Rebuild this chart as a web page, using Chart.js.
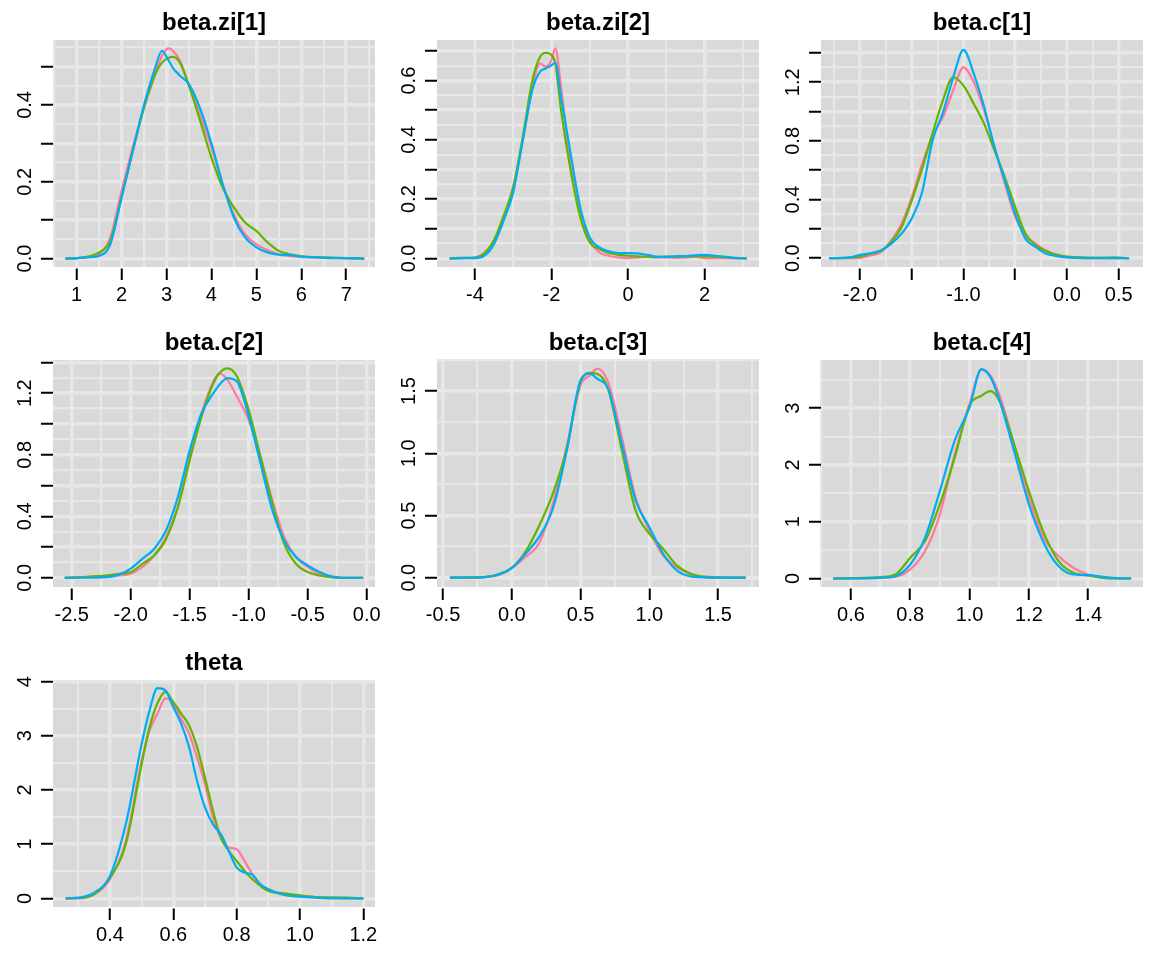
<!DOCTYPE html>
<html>
<head>
<meta charset="utf-8">
<script src="https://cdn.jsdelivr.net/npm/chart.js@4"></script>
<style>
  body { margin: 0; background: #fff; width: 1152px; height: 960px; position: relative; overflow: hidden; }
  .cell { position: absolute; width: 384px; height: 320px; }
  .cell canvas { position: absolute; left: 0; top: 0; }
  .title {
    position: absolute; left: 53px; width: 322px; top: 8px; line-height: 28px;
    text-align: center; font: bold 24px "Liberation Sans", Arial, sans-serif; color: #000;
  }
</style>
</head>
<body>
<script>
// chain colours (chain 1, 2, 3)
const chainColors = ["#FF7A9C", "#62B400", "#00ADF2"];

// beta.zi[1]
const bZi1X = [0.75, 1.0, 1.25, 1.5, 1.75, 2.0, 2.25, 2.5, 2.75, 2.9, 3.05, 3.15, 3.3, 3.5, 3.75, 4.0, 4.25, 4.5, 4.75, 5.0, 5.25, 5.5, 5.75, 6.0, 6.5, 7.0, 7.4];
const bZi1C1 = [0, 0.001, 0.004, 0.012, 0.055, 0.176, 0.29, 0.393, 0.48, 0.528, 0.547, 0.54, 0.515, 0.45, 0.372, 0.289, 0.194, 0.115, 0.063, 0.037, 0.022, 0.011, 0.007, 0.004, 0.002, 0.001, 0];
const bZi1C2 = [0, 0.001, 0.005, 0.016, 0.046, 0.159, 0.28, 0.393, 0.48, 0.51, 0.523, 0.525, 0.51, 0.45, 0.358, 0.263, 0.185, 0.133, 0.094, 0.072, 0.042, 0.02, 0.011, 0.006, 0.003, 0.001, 0];
const bZi1C3 = [0, 0.001, 0.003, 0.007, 0.037, 0.159, 0.28, 0.4, 0.497, 0.541, 0.515, 0.495, 0.476, 0.454, 0.39, 0.3, 0.194, 0.107, 0.055, 0.029, 0.016, 0.01, 0.009, 0.005, 0.002, 0.001, 0];
const bZi1XTicks = [1, 2, 3, 4, 5, 6, 7];
const bZi1XLabels = ["1", "2", "3", "4", "5", "6", "7"];
const bZi1YTicks = [0, 0.1, 0.2, 0.3, 0.4, 0.5];
const bZi1YLabels = ["0.0", "", "0.2", "", "0.4", ""];

// beta.zi[2]
const bZi2X = [-4.66, -4.25, -4.0, -3.75, -3.5, -3.25, -3.0, -2.75, -2.5, -2.3, -2.15, -2.0, -1.9, -1.75, -1.5, -1.25, -1.0, -0.75, -0.5, -0.25, 0, 0.25, 0.5, 0.75, 1.0, 1.25, 1.5, 1.75, 2.0, 2.25, 2.5, 2.75, 3.1];
const bZi2C1 = [0, 0.002, 0.003, 0.02, 0.06, 0.139, 0.24, 0.398, 0.579, 0.658, 0.647, 0.669, 0.709, 0.579, 0.308, 0.15, 0.06, 0.02, 0.009, 0.003, 0.001, 0.003, 0.006, 0.003, 0.003, 0.002, 0.003, 0.006, 0.001, 0.001, 0.001, 0, 0];
const bZi2C2 = [0, 0.002, 0.003, 0.017, 0.062, 0.144, 0.24, 0.41, 0.6, 0.68, 0.694, 0.686, 0.658, 0.5, 0.297, 0.139, 0.054, 0.032, 0.018, 0.012, 0.009, 0.007, 0.006, 0.004, 0.006, 0.006, 0.007, 0.007, 0.008, 0.006, 0.004, 0.002, 0];
const bZi2C3 = [0, 0.001, 0.001, 0.009, 0.049, 0.128, 0.223, 0.398, 0.568, 0.63, 0.641, 0.652, 0.66, 0.545, 0.353, 0.173, 0.071, 0.037, 0.024, 0.018, 0.018, 0.017, 0.012, 0.006, 0.005, 0.007, 0.008, 0.01, 0.012, 0.009, 0.006, 0.002, 0];
const bZi2XTicks = [-4, -2, 0, 2];
const bZi2XLabels = ["-4", "-2", "0", "2"];
const bZi2YTicks = [0, 0.1, 0.2, 0.3, 0.4, 0.5, 0.6, 0.7];
const bZi2YLabels = ["0.0", "", "0.2", "", "0.4", "", "0.6", ""];

// beta.c[1]
const bC1X = [-2.3, -2.1, -2.0, -1.9, -1.8, -1.7, -1.6, -1.5, -1.4, -1.3, -1.2, -1.1, -1.0, -0.9, -0.8, -0.7, -0.6, -0.5, -0.4, -0.3, -0.2, -0.1, 0, 0.1, 0.25, 0.45, 0.6];
const bC1C1 = [0, 0, 0.002, 0.018, 0.041, 0.12, 0.234, 0.416, 0.643, 0.836, 0.961, 1.143, 1.302, 1.2, 1.007, 0.757, 0.507, 0.28, 0.155, 0.098, 0.052, 0.023, 0.009, 0.002, 0, 0, 0];
const bC1C2 = [0, 0.004, 0.011, 0.03, 0.048, 0.11, 0.21, 0.393, 0.609, 0.848, 1.075, 1.234, 1.177, 1.052, 0.916, 0.734, 0.552, 0.348, 0.166, 0.086, 0.048, 0.025, 0.011, 0.007, 0.004, 0.005, 0];
const bC1C3 = [0, 0.005, 0.023, 0.034, 0.052, 0.098, 0.166, 0.27, 0.45, 0.8, 0.99, 1.23, 1.42, 1.257, 1.03, 0.757, 0.53, 0.302, 0.132, 0.075, 0.03, 0.014, 0.005, 0.002, 0, 0, 0];
const bC1XTicks = [-2.0, -1.5, -1.0, -0.5, 0.0, 0.5];
const bC1XLabels = ["-2.0", "", "-1.0", "", "0.0", "0.5"];
const bC1YTicks = [0, 0.2, 0.4, 0.6, 0.8, 1.0, 1.2, 1.4];
const bC1YLabels = ["0.0", "", "0.4", "", "0.8", "", "1.2", ""];

// beta.c[2]
const bC2X = [-2.56, -2.4, -2.2, -2.1, -2.0, -1.9, -1.8, -1.7, -1.6, -1.5, -1.4, -1.3, -1.25, -1.18, -1.1, -1.0, -0.9, -0.8, -0.7, -0.6, -0.5, -0.4, -0.3, -0.2, -0.03];
const bC2C1 = [0, 0.004, 0.011, 0.015, 0.026, 0.07, 0.146, 0.265, 0.461, 0.787, 1.07, 1.276, 1.33, 1.287, 1.178, 1.026, 0.787, 0.504, 0.265, 0.135, 0.07, 0.026, 0.004, 0, 0];
const bC2C2 = [0, 0.004, 0.015, 0.026, 0.037, 0.091, 0.146, 0.254, 0.461, 0.765, 1.048, 1.265, 1.33, 1.361, 1.309, 1.091, 0.787, 0.483, 0.222, 0.091, 0.037, 0.015, 0.004, 0, 0];
const bC2C3 = [0, 0, 0.004, 0.02, 0.059, 0.124, 0.189, 0.309, 0.526, 0.83, 1.07, 1.2, 1.254, 1.298, 1.276, 1.048, 0.743, 0.439, 0.243, 0.135, 0.08, 0.037, 0.009, 0, 0];
const bC2XTicks = [-2.5, -2.0, -1.5, -1.0, -0.5, 0.0];
const bC2XLabels = ["-2.5", "-2.0", "-1.5", "-1.0", "-0.5", "0.0"];
const bC2YTicks = [0, 0.2, 0.4, 0.6, 0.8, 1.0, 1.2, 1.4];
const bC2YLabels = ["0.0", "", "0.4", "", "0.8", "", "1.2", ""];

// beta.c[3]
const bC3X = [-0.45, -0.3, -0.2, -0.1, 0.0, 0.1, 0.2, 0.3, 0.4, 0.5, 0.57, 0.62, 0.7, 0.8, 0.9, 1.0, 1.1, 1.2, 1.3, 1.4, 1.5, 1.7];
const bC3C1 = [0, 0, 0.005, 0.019, 0.078, 0.166, 0.28, 0.6, 1.06, 1.547, 1.627, 1.68, 1.574, 1.131, 0.649, 0.381, 0.18, 0.086, 0.032, 0.005, 0, 0];
const bC3C2 = [0, 0, 0.004, 0.027, 0.078, 0.21, 0.42, 0.68, 1.04, 1.574, 1.646, 1.64, 1.52, 1.024, 0.542, 0.354, 0.233, 0.099, 0.032, 0.008, 0.003, 0];
const bC3C3 = [0, 0.003, 0.005, 0.024, 0.078, 0.193, 0.33, 0.56, 1.02, 1.587, 1.64, 1.6, 1.52, 1.078, 0.622, 0.408, 0.193, 0.059, 0.011, 0.003, 0, 0];
const bC3XTicks = [-0.5, 0.0, 0.5, 1.0, 1.5];
const bC3XLabels = ["-0.5", "0.0", "0.5", "1.0", "1.5"];
const bC3YTicks = [0, 0.5, 1.0, 1.5];
const bC3YLabels = ["0.0", "0.5", "1.0", "1.5"];

// beta.c[4]
const bC4X = [0.54, 0.6, 0.7, 0.75, 0.8, 0.85, 0.9, 0.95, 1.0, 1.04, 1.07, 1.1, 1.15, 1.2, 1.25, 1.3, 1.35, 1.4, 1.45, 1.5, 1.545];
const bC4C1 = [0, 0, 0.012, 0.03, 0.16, 0.483, 1.131, 2.19, 3.076, 3.677, 3.58, 3.25, 2.37, 1.426, 0.72, 0.395, 0.189, 0.07, 0.012, 0, 0];
const bC4C2 = [0, 0.006, 0.024, 0.07, 0.365, 0.66, 1.308, 2.13, 3.05, 3.22, 3.3, 3.135, 2.37, 1.544, 0.807, 0.306, 0.1, 0.053, 0.012, 0, 0];
const bC4C3 = [0, 0, 0.012, 0.04, 0.247, 0.72, 1.544, 2.43, 3.017, 3.69, 3.55, 3.16, 2.25, 1.308, 0.63, 0.218, 0.07, 0.059, 0.03, 0.006, 0];
const bC4XTicks = [0.6, 0.8, 1.0, 1.2, 1.4];
const bC4XLabels = ["0.6", "0.8", "1.0", "1.2", "1.4"];
const bC4YTicks = [0, 1, 2, 3];
const bC4YLabels = ["0", "1", "2", "3"];

// theta
const thetaX = [0.26, 0.3, 0.35, 0.4, 0.45, 0.5, 0.525, 0.55, 0.575, 0.6, 0.625, 0.65, 0.675, 0.7, 0.725, 0.75, 0.775, 0.8, 0.825, 0.85, 0.875, 0.9, 0.95, 1.0, 1.05, 1.1, 1.15, 1.2];
const thetaC1 = [0, 0, 0.074, 0.352, 1.062, 2.543, 3.1, 3.41, 3.69, 3.59, 3.31, 3.04, 2.6, 2.11, 1.49, 1.12, 0.94, 0.907, 0.69, 0.444, 0.26, 0.167, 0.074, 0.043, 0.025, 0.006, 0, 0];
const thetaC2 = [0, 0.006, 0.074, 0.383, 1.0, 2.48, 3.16, 3.6, 3.81, 3.62, 3.41, 3.19, 2.79, 2.23, 1.62, 1.12, 0.877, 0.69, 0.506, 0.352, 0.228, 0.136, 0.093, 0.056, 0.025, 0.019, 0.012, 0];
const thetaC3 = [0, 0.012, 0.105, 0.414, 1.37, 2.85, 3.47, 3.88, 3.84, 3.53, 3.22, 2.79, 2.17, 1.68, 1.37, 1.185, 0.877, 0.57, 0.475, 0.432, 0.26, 0.167, 0.062, 0.031, 0.012, 0, 0, 0];
const thetaXTicks = [0.4, 0.6, 0.8, 1.0, 1.2];
const thetaXLabels = ["0.4", "0.6", "0.8", "1.0", "1.2"];
const thetaYTicks = [0, 1, 2, 3, 4];
const thetaYLabels = ["0", "1", "2", "3", "4"];

const panels = [
  { title: "beta.zi[1]", x: bZi1X, chains: [bZi1C1, bZi1C2, bZi1C3], xlim: [0.475, 7.64], ylim: [-0.022, 0.569],
    xTicks: bZi1XTicks, xLabels: bZi1XLabels, yTicks: bZi1YTicks, yLabels: bZi1YLabels },
  { title: "beta.zi[2]", x: bZi2X, chains: [bZi2C1, bZi2C2, bZi2C3], xlim: [-4.99, 3.42], ylim: [-0.029, 0.737],
    xTicks: bZi2XTicks, xLabels: bZi2XLabels, yTicks: bZi2YTicks, yLabels: bZi2YLabels },
  { title: "beta.c[1]", x: bC1X, chains: [bC1C1, bC1C2, bC1C3], xlim: [-2.377, 0.735], ylim: [-0.06, 1.488],
    xTicks: bC1XTicks, xLabels: bC1XLabels, yTicks: bC1YTicks, yLabels: bC1YLabels },
  { title: "beta.c[2]", x: bC2X, chains: [bC2C1, bC2C2, bC2C3], xlim: [-2.659, 0.07], ylim: [-0.06, 1.416],
    xTicks: bC2XTicks, xLabels: bC2XLabels, yTicks: bC2YTicks, yLabels: bC2YLabels },
  { title: "beta.c[3]", x: bC3X, chains: [bC3C1, bC3C2, bC3C3], xlim: [-0.544, 1.798], ylim: [-0.075, 1.75],
    xTicks: bC3XTicks, xLabels: bC3XLabels, yTicks: bC3YTicks, yLabels: bC3YLabels },
  { title: "beta.c[4]", x: bC4X, chains: [bC4C1, bC4C2, bC4C3], xlim: [0.499, 1.585], ylim: [-0.15, 3.85],
    xTicks: bC4XTicks, xLabels: bC4XLabels, yTicks: bC4YTicks, yLabels: bC4YLabels },
  { title: "theta", x: thetaX, chains: [thetaC1, thetaC2, thetaC3], xlim: [0.22, 1.237], ylim: [-0.16, 4.03],
    xTicks: thetaXTicks, xLabels: thetaXLabels, yTicks: thetaYTicks, yLabels: thetaYLabels },
];

const fontFamily = '"Liberation Sans", Arial, sans-serif';
const tickFont = { family: fontFamily, size: 20 };

// grey panel behind the grid
const greyBackground = {
  id: "greyBackground",
  beforeDraw(chart) {
    const { ctx, chartArea: a } = chart;
    ctx.save();
    ctx.fillStyle = "#D9D9D9";
    ctx.fillRect(a.left, a.top, a.right - a.left, a.bottom - a.top);
    ctx.restore();
  },
};

// major lines at the ticks, minor ones half a step away
const gridValues = (ticks, min, max) => {
  const step = ticks[1] - ticks[0];
  const vals = [ticks[0] - step / 2];
  ticks.forEach((t) => vals.push(t, t + step / 2));
  return vals.map((v) => Math.round(v * 1e6) / 1e6).filter((v) => v >= min && v <= max);
};

const measure = document.createElement("canvas").getContext("2d");
measure.font = `${tickFont.size}px ${fontFamily}`;

const axis = (isX, ticks, labels, lim) => {
  const values = gridValues(ticks, lim[0], lim[1]);
  const isMajor = (v) => ticks.some((t) => Math.abs(t - v) < 1e-6);
  const widest = Math.max(...labels.map((l) => measure.measureText(l).width));
  return {
    type: "linear",
    position: isX ? "bottom" : "left",
    min: lim[0],
    max: lim[1],
    bounds: "data",
    afterBuildTicks: (scale) => {
      scale.ticks = values.map((v) => ({ value: v }));
    },
    afterFit: (scale) => {
      if (isX) scale.height = 53;
      else scale.width = 53;
      scale.paddingLeft = 0;
      scale.paddingRight = 0;
      scale.paddingTop = 0;
      scale.paddingBottom = 0;
    },
    border: { display: false },
    grid: {
      color: "#E7E7E7",
      lineWidth: (c) => (c.tick && isMajor(c.tick.value) ? 3.5 : 2.2),
      tickColor: (c) => (c.tick && isMajor(c.tick.value) ? "#000" : "rgba(0,0,0,0)"),
      tickWidth: 2,
      tickLength: isX ? 13 : 12,
      tickBorderDash: isX ? [0, 1.5, 30] : [],
    },
    ticks: {
      autoSkip: false,
      color: "#000",
      font: tickFont,
      padding: isX ? 3 : 53 - 12 - 25 - widest / 2,
      minRotation: isX ? 0 : 90,
      maxRotation: isX ? 0 : 90,
      crossAlign: isX ? "near" : "center",
      callback: (v) => {
        const i = ticks.findIndex((t) => Math.abs(t - v) < 1e-6);
        return i < 0 ? "" : labels[i];
      },
    },
  };
};

panels.forEach((p, i) => {
  const cell = document.createElement("div");
  cell.className = "cell";
  cell.style.left = (i % 3) * 384 + "px";
  cell.style.top = Math.floor(i / 3) * 320 + "px";
  const canvas = document.createElement("canvas");
  canvas.width = 384;
  canvas.height = 320;
  const title = document.createElement("div");
  title.className = "title";
  title.textContent = p.title;
  cell.append(canvas, title);
  document.body.appendChild(cell);

  new Chart(canvas, {
    type: "line",
    data: {
      datasets: p.chains.map((chain, k) => ({
        label: "chain " + (k + 1),
        data: p.x.map((x, j) => ({ x: x, y: chain[j] })),
        borderColor: chainColors[k],
        borderWidth: 2.2,
        pointRadius: 0,
        cubicInterpolationMode: "monotone",
        order: 3 - k,
      })),
    },
    options: {
      responsive: false,
      animation: false,
      devicePixelRatio: 1,
      events: [],
      layout: { padding: { top: 40, right: 9, left: 0, bottom: 0 } },
      plugins: { legend: { display: false }, tooltip: { enabled: false } },
      scales: {
        x: axis(true, p.xTicks, p.xLabels, p.xlim),
        y: axis(false, p.yTicks, p.yLabels, p.ylim),
      },
    },
    plugins: [greyBackground],
  });
});
</script>
</body>
</html>
